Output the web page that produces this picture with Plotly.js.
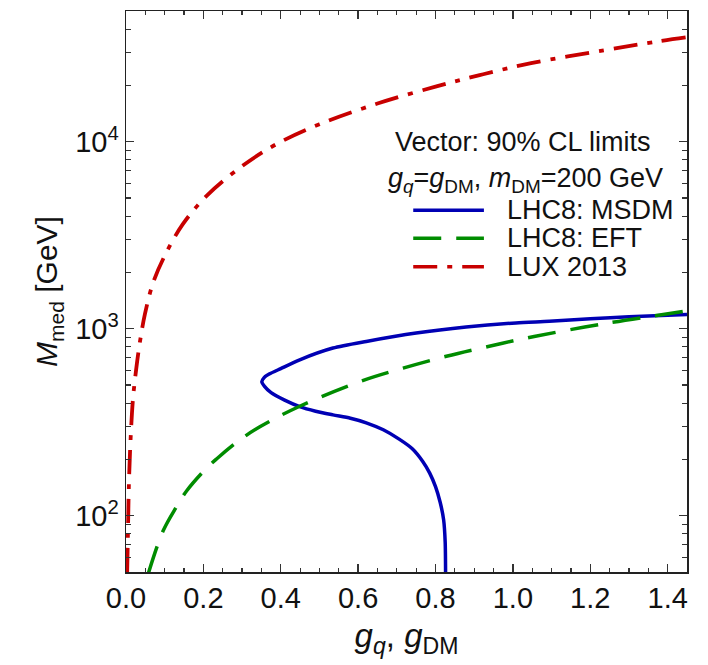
<!DOCTYPE html>
<html>
<head>
<meta charset="utf-8">
<script src="https://cdn.plot.ly/plotly-3.0.1.min.js"></script>
<style>html,body{margin:0;padding:0;background:#fff;}#chart{width:708px;height:665px;}</style>
</head>
<body>
<div id="chart"></div>
<script>
// LHC8: MSDM (blue) – traced from upper-right, around the nose, down to bottom
const msdmG = [1.45, 1.30, 1.20, 1.094, 1.008, 0.879, 0.750, 0.621, 0.535, 0.449, 0.40, 0.37, 0.357, 0.351, 0.358, 0.375, 0.41, 0.449, 0.49, 0.535, 0.58, 0.621, 0.665, 0.707, 0.740, 0.767, 0.785, 0.800, 0.812, 0.821, 0.825, 0.826];
const msdmM = [1190, 1160, 1130, 1095, 1074, 1021, 948, 855, 788, 682, 612, 572, 548, 520, 492, 455, 415, 383, 362, 346, 332, 314, 288, 256, 228, 195, 169, 143, 118, 95, 72, 49];

// LHC8: EFT (green)
const eftG = [0.058, 0.096, 0.131, 0.157, 0.204, 0.234, 0.294, 0.346, 0.449, 0.604, 0.716, 0.828, 0.939, 1.055, 1.25, 1.45];
const eftM = [49.3, 83, 112, 136, 176, 201, 254, 299, 385, 521, 615, 712, 806, 909, 1075, 1245];

// LUX 2013 (red)
const luxG = [0.003, 0.005, 0.0065, 0.008, 0.012, 0.018, 0.026, 0.036, 0.049, 0.07, 0.099, 0.146, 0.211, 0.30, 0.387, 0.5, 0.65, 0.8, 0.914, 1.047, 1.236, 1.372, 1.45];
const luxM = [50, 80, 120, 160, 260, 420, 600, 850, 1200, 1760, 2430, 3600, 5200, 7400, 9660, 12400, 16000, 19700, 22700, 26300, 30800, 34300, 36200];

const seriesNames = ['LHC8: MSDM', 'LHC8: EFT', 'LUX 2013'];
const yTickVals = [100, 1000, 10000];
const yTickText = ['10<sup>2</sup>', '10<sup>3</sup>', '10<sup>4</sup>'];
const xTickVals = [0, 0.2, 0.4, 0.6, 0.8, 1.0, 1.2, 1.4];
const xTickText = ['0.0', '0.2', '0.4', '0.6', '0.8', '1.0', '1.2', '1.4'];

const BLUE = '#0000b4', GREEN = '#008c00', RED = '#c80000';
const DASH_EFT = '28px,15px';
const DASH_LUX = '24px,10px,5px,10px';
const FONT = 'Liberation Sans, Arial, Helvetica, sans-serif';

const traces = [
  {x: msdmG, y: msdmM, mode: 'lines', name: seriesNames[0], line: {color: BLUE, width: 3.5, shape: 'spline', smoothing: 0.7}, showlegend: false},
  {x: eftG, y: eftM, mode: 'lines', name: seriesNames[1], line: {color: GREEN, width: 3.5, dash: DASH_EFT, shape: 'spline', smoothing: 1}, showlegend: false},
  {x: luxG, y: luxM, mode: 'lines', name: seriesNames[2], line: {color: RED, width: 3.8, dash: DASH_LUX, shape: 'spline', smoothing: 1}, showlegend: false}
];

// legend geometry (paper coords)
const lx0 = 0.512, lx1 = 0.638, ltx = 0.676;
const legY = [0.645, 0.595, 0.544];
const legCol = [BLUE, GREEN, RED];
const legDash = ['solid', DASH_EFT, DASH_LUX];

const shapes = legY.map((yy, i) => ({
  type: 'line', xref: 'paper', yref: 'paper', x0: lx0, x1: lx1, y0: yy, y1: yy,
  line: {color: legCol[i], width: 3.5, dash: legDash[i]}
}));

const annotations = [
  {xref: 'paper', yref: 'paper', x: 0.939, y: 0.766, xanchor: 'right', yanchor: 'middle', showarrow: false,
   text: 'Vector: 90% CL limits', font: {family: FONT, size: 27, color: '#111'}},
  {xref: 'paper', yref: 'paper', x: 0.961, y: 0.699, xanchor: 'right', yanchor: 'middle', showarrow: false,
   text: '<i>g</i><sub><i>q</i></sub>=<i>g</i><sub>DM</sub>, <i>m</i><sub>DM</sub>=200 GeV', font: {family: FONT, size: 27, color: '#111'}}
].concat(legY.map((yy, i) => ({
  xref: 'paper', yref: 'paper', x: ltx, y: yy, xanchor: 'left', yanchor: 'middle', showarrow: false,
  text: seriesNames[i], font: {family: FONT, size: 27, color: '#111'}
})));

const axisCommon = {
  showline: true, linecolor: '#222', linewidth: 1.5, mirror: 'allticks',
  ticks: 'inside', ticklen: 8, tickwidth: 1.3, tickcolor: '#333',
  showgrid: false, zeroline: false,
  tickfont: {family: FONT, size: 29, color: '#111'}
};

const layout = {
  width: 708, height: 665,
  margin: {l: 126, r: 21, t: 11, b: 93},
  paper_bgcolor: '#fff', plot_bgcolor: '#fff',
  font: {family: FONT, color: '#111'},
  xaxis: Object.assign({}, axisCommon, {
    range: [0, 1.45], tickmode: 'array', tickvals: xTickVals, ticktext: xTickText,
    minor: {ticks: 'inside', ticklen: 4, dtick: 0.05, tick0: 0, tickcolor: '#333', tickwidth: 1.2},
    title: {text: '<i>g</i><sub><i>q</i></sub>, <i>g</i><sub>DM</sub>', font: {family: FONT, size: 33, color: '#111'}, standoff: 10}
  }),
  yaxis: Object.assign({}, axisCommon, {
    type: 'log', range: [Math.log10(50), Math.log10(50000)],
    tickmode: 'array', tickvals: yTickVals, ticktext: yTickText,
    minor: {ticks: 'inside', ticklen: 5, dtick: 'D1', tickcolor: '#333', tickwidth: 1.2},
    title: {text: '<i>M</i><sub>med</sub> [GeV]', font: {family: FONT, size: 30, color: '#111'}, standoff: 8}
  }),
  shapes: shapes,
  annotations: annotations,
  showlegend: false
};

Plotly.newPlot('chart', traces, layout, {displayModeBar: false, staticPlot: true});
</script>
</body>
</html>
